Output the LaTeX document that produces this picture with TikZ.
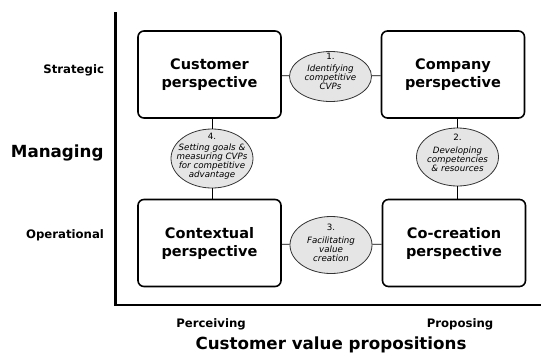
\documentclass[tikz,border=0pt]{standalone}
\usepackage{fontspec}
\setmainfont{DejaVu Sans}
\usetikzlibrary{shapes.geometric}

\begin{document}
\begin{tikzpicture}[x=1pt,y=-1pt,persp node/.style={rectangle,rounded corners=6pt,draw,line width=1.6pt,minimum width=143pt,minimum height=87pt,align=center,font=\fontsize{14.5}{18}\selectfont\bfseries},phase node/.style={ellipse,draw=black!80,line width=0.8pt,fill=black!10,minimum width=82pt,inner sep=0pt},phase text/.style={align=center,inner sep=0pt,font=\fontsize{8.7}{9}\selectfont\itshape},side label/.style={font=\fontsize{11.7}{14}\selectfont\bfseries},big label/.style={font=\fontsize{16.7}{20}\selectfont\bfseries}]
  \useasboundingbox (0,0) rectangle (541,354);

  % axes
  \coordinate (top) at (115.5,12);
  \coordinate (origin) at (115.5,305);
  \coordinate (right) at (541,305);
  \draw[line width=2.3pt] (top) -- (origin) -- (right);

  \node[persp node] (cust) at (209.5,74.5) {Customer\\perspective};
  \node[persp node] (comp) at (453,74.5) {Company\\perspective};
  \node[persp node] (ctx) at (209.5,243) {Contextual\\perspective};
  \node[persp node] (cocr) at (454,243) {Co-creation\\perspective};

  \node[phase node,minimum height=50pt] (p1) at (330.5,76.5) {};
  \node[phase node,minimum height=58pt] (p2) at (457.5,157) {};
  \node[phase node,minimum height=57pt] (p3) at (331,245) {};
  \node[phase node,minimum height=59pt] (p4) at (212,158.5) {};

  \node[phase text] (t1) at (330.5,71.5) {\upshape 1.\\[3pt]Identifying\\competitive\\CVPs};
  \node[phase text] (t2) at (457.5,153) {\upshape 2.\\[4pt]Developing\\competencies\\\& resources};
  \node[phase text] (t3) at (331,242.5) {\upshape 3.\\[4pt]Facilitating\\value\\creation};
  \node[phase text] (t4) at (212,156) {\upshape 4.\\[2pt]Setting goals \&\\measuring CVPs\\for competitive\\advantage};

  \node[side label,anchor=east] (strat) at (107.5,70) {Strategic};
  \node[side label,anchor=east] (oper) at (107.5,235) {Operational};
  \node[big label,anchor=east] (manag) at (107,153) {Managing};
  \node[side label] (perc) at (211,324) {Perceiving};
  \node[side label] (prop) at (460,324) {Proposing};
  \node[big label] (cvp) at (331,344.5) {Customer value propositions};

\path[every edge/.style={draw,line width=0.8pt}]
  (cust) edge (p1)
  (p1) edge (comp)
  (ctx) edge (p3)
  (p3) edge (cocr)
  (p4) edge (p4 |- cust.south)
  (p4) edge (p4 |- ctx.north)
  (p2) edge (p2 |- comp.south)
  (p2) edge (p2 |- cocr.north)
;
\end{tikzpicture}
\end{document}
